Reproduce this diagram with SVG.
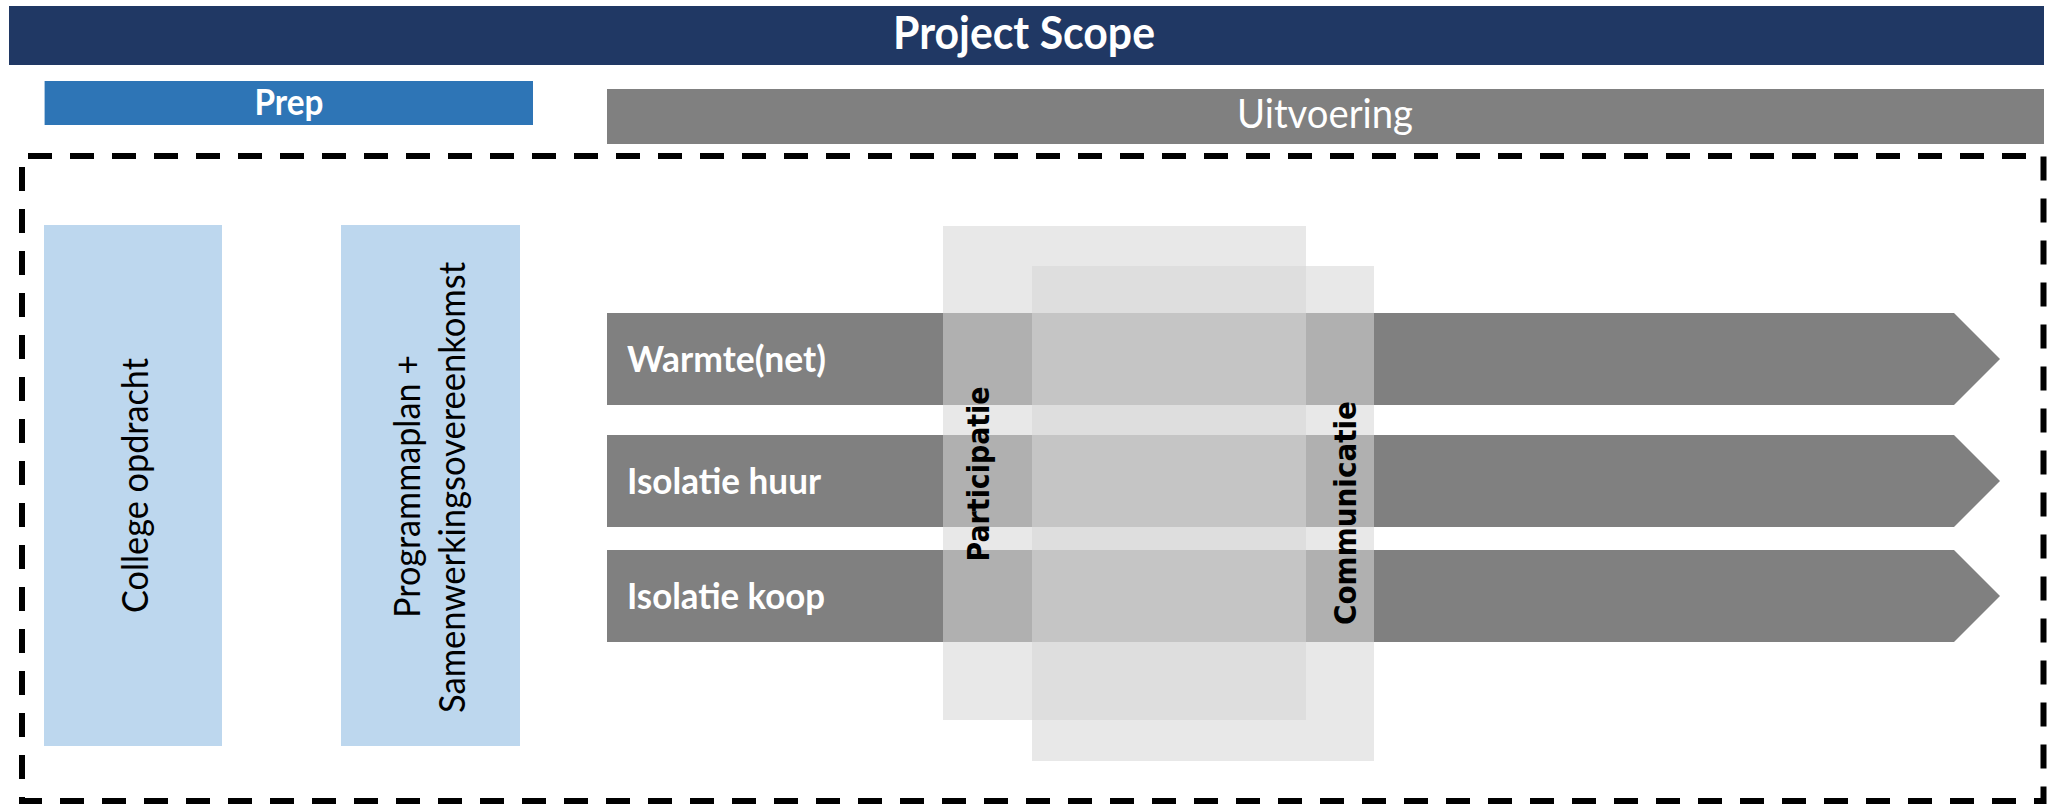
<svg xmlns="http://www.w3.org/2000/svg" width="2055" height="805" viewBox="0 0 2055 805">
<style>
.lbl{font-family:Lato,"Liberation Sans",sans-serif;}
.w{fill:#ffffff;}
.b{font-weight:bold;}
.dv{font-family:"DejaVu Sans","Liberation Sans",sans-serif;font-weight:bold;fill:#000000;font-size:31px;}
.phase{fill:#bdd7ee;}
.bar{fill:#808080;}
.ov{fill:#d6d6d6;fill-opacity:0.56;}
</style>
<rect width="2055" height="805" fill="#ffffff"/>
<g id="header">
<rect x="9" y="6" width="2035" height="59" fill="#203864"/>
<text class="lbl w b" x="1024" y="49" font-size="46" text-anchor="middle" textLength="262" lengthAdjust="spacingAndGlyphs">Project Scope</text>
</g>
<g id="prep">
<rect x="44.6" y="81" width="488.4" height="44" fill="#2e75b6"/>
<text class="lbl w b" x="289" y="115" font-size="36" text-anchor="middle" textLength="69" lengthAdjust="spacingAndGlyphs">Prep</text>
</g>
<g id="uitvoering">
<rect x="607" y="89" width="1437" height="55" fill="#808080"/>
<text class="lbl w" x="1325" y="128" font-size="40" text-anchor="middle" textLength="176" lengthAdjust="spacingAndGlyphs">Uitvoering</text>
</g>
<g id="scope-frame">
<rect x="22" y="156" width="2021.5" height="645" fill="none" stroke="#000000" stroke-width="6" stroke-dasharray="24 18" stroke-dashoffset="-6"/>
</g>
<g id="college-opdracht">
<rect class="phase" x="44" y="225" width="178" height="521"/>
<text class="lbl" x="0" y="0" font-size="36" fill="#000000" text-anchor="middle" textLength="255" lengthAdjust="spacingAndGlyphs" transform="translate(148,485.5) rotate(-90)">College opdracht</text>
</g>
<g id="programmaplan">
<rect class="phase" x="341" y="225" width="179" height="521"/>
<text class="lbl" x="0" y="0" font-size="36" fill="#000000" text-anchor="middle" textLength="263" lengthAdjust="spacingAndGlyphs" transform="translate(420,486.5) rotate(-90)">Programmaplan +</text>
<text class="lbl" x="0" y="0" font-size="36" fill="#000000" text-anchor="middle" textLength="451" lengthAdjust="spacingAndGlyphs" transform="translate(465,487.5) rotate(-90)">Samenwerkingsovereenkomst</text>
</g>
<g id="warmte">
<polygon class="bar" points="607,313 1954,313 2000,359 1954,405 607,405"/>
<text class="lbl w b" x="627" y="372" font-size="37" textLength="199" lengthAdjust="spacingAndGlyphs">Warmte(net)</text>
</g>
<g id="isolatie-huur">
<polygon class="bar" points="607,435 1954,435 2000,481 1954,527 607,527"/>
<text class="lbl w b" x="627" y="494" font-size="37" textLength="194" lengthAdjust="spacingAndGlyphs">Isolatie huur</text>
</g>
<g id="isolatie-koop">
<polygon class="bar" points="607,550 1954,550 2000,596 1954,642 607,642"/>
<text class="lbl w b" x="627" y="609" font-size="37" textLength="198" lengthAdjust="spacingAndGlyphs">Isolatie koop</text>
</g>
<g id="participatie">
<rect class="ov" x="943" y="226" width="363" height="494"/>
</g>
<g id="communicatie">
<rect class="ov" x="1032" y="266" width="342" height="495"/>
</g>
<g id="overlay-labels">
<text class="dv" x="0" y="0" text-anchor="middle" textLength="175" lengthAdjust="spacingAndGlyphs" transform="translate(989,474) rotate(-90)">Participatie</text>
<text class="dv" x="0" y="0" text-anchor="middle" textLength="224" lengthAdjust="spacingAndGlyphs" transform="translate(1356,513) rotate(-90)">Communicatie</text>
</g>
<g id="connectors"/>
</svg>
